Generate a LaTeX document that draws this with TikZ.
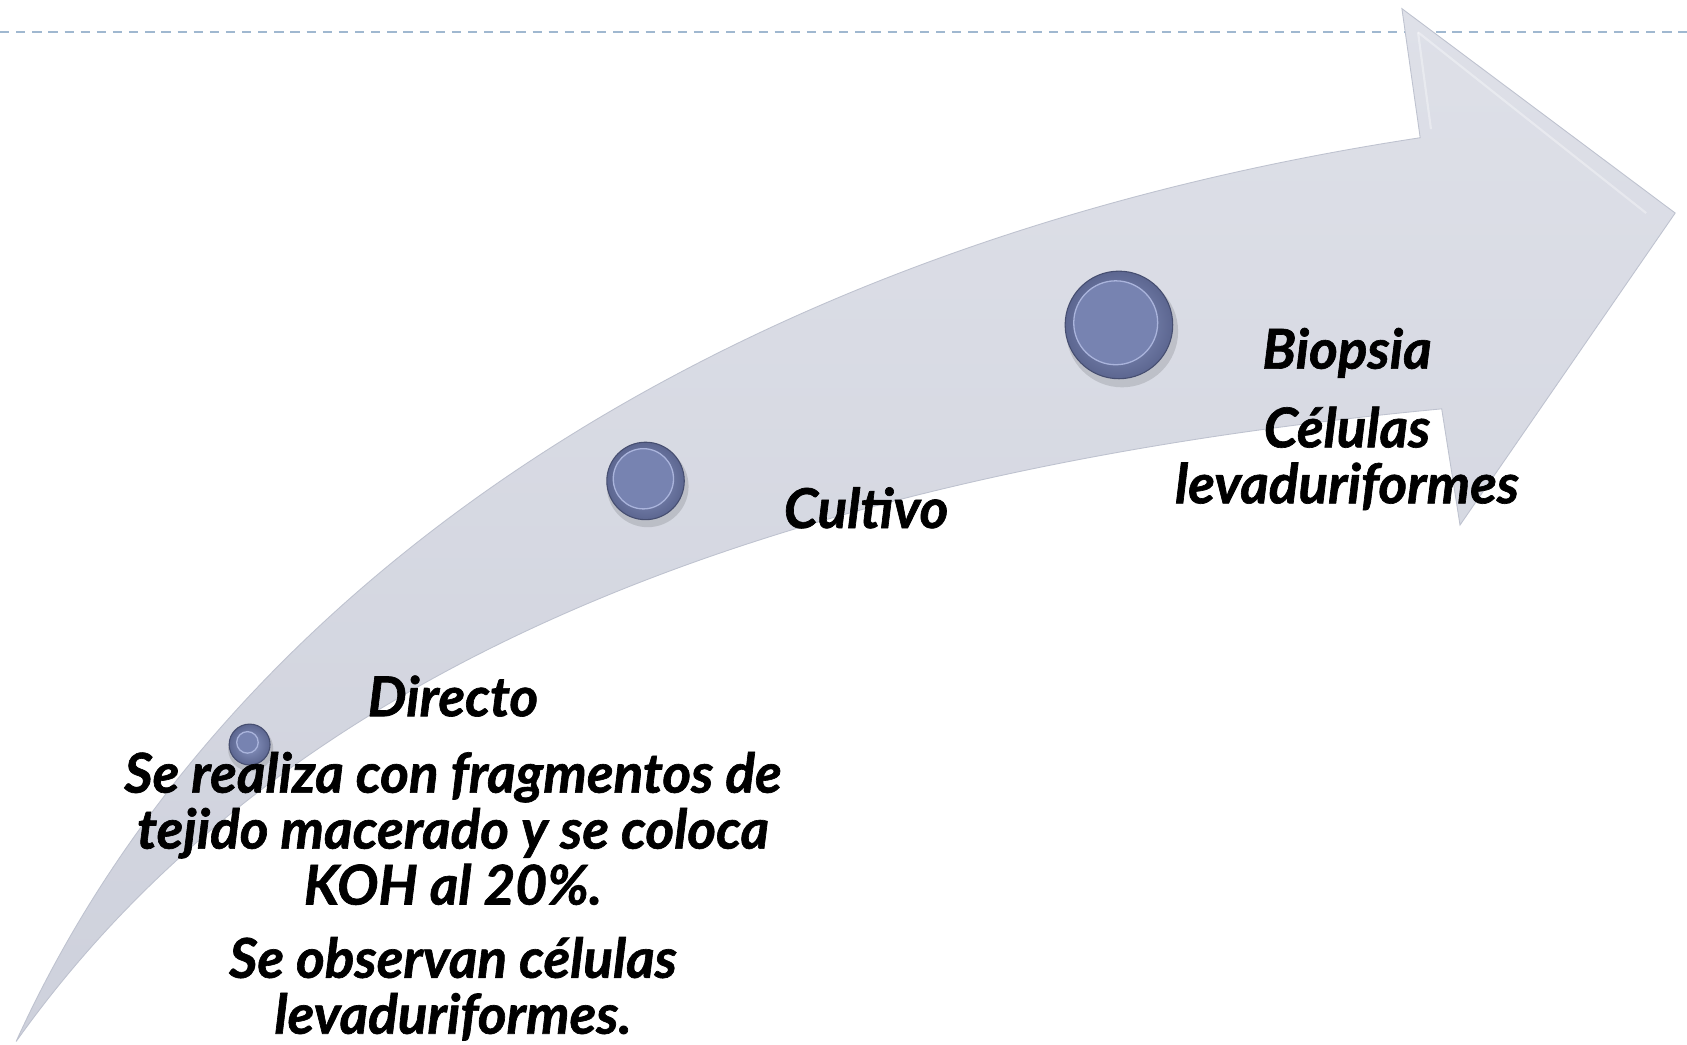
\documentclass[tikz,border=0pt]{standalone}
\usepackage{fontspec}
\setmainfont{Lato}[BoldItalicFeatures={FakeBold=1.2}]
\definecolor{dashc}{RGB}{160,184,208}
\definecolor{arrowA}{RGB}{222,224,232}
\definecolor{arrowB}{RGB}{206,209,220}
\definecolor{arrowE}{RGB}{190,194,207}
\definecolor{dotOut}{RGB}{92,102,144}
\definecolor{dotIn}{RGB}{140,152,196}
\definecolor{dotFace}{RGB}{119,131,177}
\definecolor{dotHi}{RGB}{170,180,220}
\definecolor{dotRim}{RGB}{70,78,112}
\tikzset{
  lbl/.style={font=\bfseries\itshape\fontsize{25.5}{26}\selectfont, align=center, inner sep=0pt, text=black},
  dot/.style={circle, inner sep=0pt, draw=dotRim, line width=0.5pt, inner color=dotIn, outer color=dotOut},
  dotshadow/.style={fill=black, opacity=0.12},
  dotface/.style={fill=dotFace, draw=dotHi, line width=0.6pt},
}
\begin{document}
\begin{tikzpicture}[x=0.5pt, y=-0.5pt]
\useasboundingbox (0,0) rectangle (1568,971);
\fill[white] (0,0) rectangle (1568,971);
% dashed top rule
\draw[dashc, line width=1pt, dash pattern=on 4.3pt off 3.2pt] (0,30) -- (1568,30);
% curved arrow
\path[top color=arrowA, bottom color=arrowB, draw=arrowE, line width=0.4pt]
  (15,968) .. controls (200,560) and (650,230) .. (1320,128)
  -- (1303,8) -- (1557,198) -- (1357,488) -- (1340,380)
  .. controls (600,450) and (220,680) .. (15,968) -- cycle;
% bevel of the arrow head
\draw[white, opacity=0.35, line width=1pt] (1318,30) -- (1330,120);
\draw[white, opacity=0.35, line width=1pt] (1318,30) -- (1530,198);
% dots
\fill[dotshadow] (233,696) circle (10.5pt);
\node[dot, minimum size=19pt] (d1) at (232,692) {};
\fill[dotface] (230,690) circle (5pt);
\fill[dotshadow] (602,452) circle (19pt);
\node[dot, minimum size=36pt] (d2) at (600,447) {};
\fill[dotface] (598,445) circle (14pt);
\fill[dotshadow] (1043,308) circle (26pt);
\node[dot, minimum size=50pt] (d3) at (1040,302) {};
\fill[dotface] (1037,300) circle (19.5pt);
% labels
\node[lbl] (directo) at (421,647) {Directo};
\node[lbl] (realiza) at (421,770) {Se realiza con fragmentos de\\tejido macerado y se coloca\\KOH al 20\%.};
\node[lbl] (observan) at (421,919) {Se observan células\\levaduriformes.};
\node[lbl] (cultivo) at (805,472) {Cultivo};
\node[lbl] (biopsia) at (1252,328) {Biopsia};
\node[lbl] (celulas) at (1252,426) {Células\\levaduriformes};
\end{tikzpicture}
\end{document}
